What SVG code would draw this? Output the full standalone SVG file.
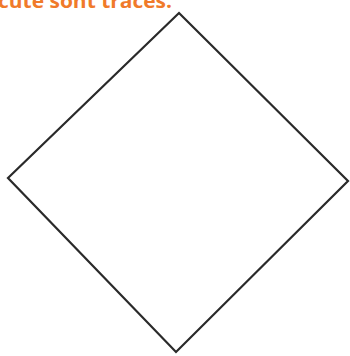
<svg xmlns="http://www.w3.org/2000/svg" width="350" height="356" viewBox="0 0 350 356">
<style>
.lbl{font-family:"Open Sans","Liberation Sans",sans-serif;font-weight:bold;font-size:20px;fill:#f07a2a}
.shape{fill:none;stroke:#2a2a2a;stroke-width:2.2;stroke-linejoin:miter}
</style>
<rect width="350" height="356" fill="#ffffff"/>
<g id="caption"><text class="lbl" x="-2" y="8" textLength="174" lengthAdjust="spacingAndGlyphs">cute sont tracés.</text></g>
<g id="diamond"><polygon class="shape" points="179,13 348,181 176,352 8,178"/></g>
</svg>
